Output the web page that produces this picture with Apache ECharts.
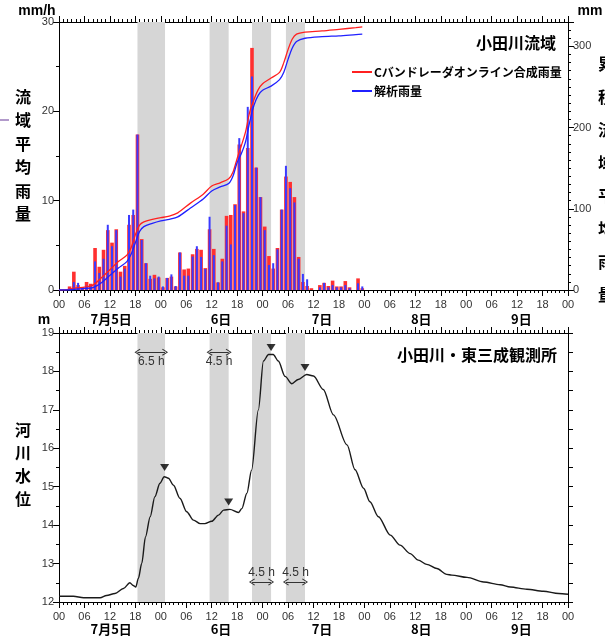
<!DOCTYPE html>
<html>
<head>
<meta charset="utf-8">
<style>
html,body{margin:0;padding:0;background:#fff;}
#main{width:605px;height:638px;}
</style>
<script src="https://cdn.jsdelivr.net/npm/echarts/dist/echarts.min.js"></script>
</head>
<body>
<div id="main"></div>
<script>
// 時刻は 7/5 00時 からの経過時間(h)
var rainHours = [0,1,2,3,4,5,6,7,8,9,10,11,12,13,14,15,16,17,18,19,20,21,22,23,
                 24,25,26,27,28,29,30,31,32,33,34,35,36,37,38,39,40,41,42,43,44,45,46,47,
                 48,49,50,51,52,53,54,55,56,57,58,59,60,61,62,63,64,65,66,67,68,69,70,71];
// Cバンドレーダオンライン合成雨量 (mm/h)
var radarRain = [0,0,0.4,2.05,0.55,0.3,0.9,0.7,4.7,2.6,4.5,6.7,5.3,6.8,2.05,2.7,7.3,8.4,17.4,5.7,3.0,1.25,1.7,1.4,
                 0.3,1.35,1.5,0.4,4.2,2.3,2.4,4.0,4.6,4.5,2.45,6.8,4.6,0.85,3.5,8.3,8.4,9.6,16.3,8.8,15.9,27.1,13.7,10.4,
                 7.1,3.8,2.4,4.7,9.0,12.7,12.1,10.4,3.7,0.9,0.45,0.2,0,0.55,0.8,0.45,1.05,0.4,0.4,1.0,0.3,0,1.3,0.2];
// 解析雨量 (mm/h)
var analysisRain = [0,0,0.2,0.9,0.8,0.3,0.5,0.45,3.2,1.9,3.5,7.3,4.9,6.7,1.5,2.4,8.4,9.0,17.4,5.6,3.0,1.6,1.3,1.5,
                    0.4,1.35,1.75,0.45,4.2,1.6,1.6,3.75,4.9,3.7,2.35,8.2,3.9,0.85,3.2,7.2,5.1,9.5,17.0,8.6,20.5,23.9,13.7,10.4,
                    6.7,2.8,3.0,4.55,9.0,13.9,11.4,9.8,3.5,1.8,1.2,0,0,0.3,0.8,0.3,0.55,0.3,0.3,0.55,0.2,0,0.75,0.4];
// 累積雨量 (mm)
var cumHours = [0,2,4,6,8,10,12,14,16,17,18,19,20,22,24,26,28,31,34,36,38,40,41,42,43,44,45,46,47,48,50,52,53,54,55,56,58,62,66,70,71.5];
var radarCum = [0,0.5,2.5,3.5,6,15,25,35,43,52,68,80,84,87,89,91,95,107,118,128,132,137,145,162,178,195,220,235,247,254,261,268,280,296,309,315,317.5,319,321,323,324];
var analysisCum = [0,0,1,2,3,9,18,27,35,44,58,72,78,82,85,87,90,101,112,122,127,131,140,157,168,183,208,228,240,246,251,259,268,284,298,306,310,312,313,314.5,315];

// 河川水位 (m)
var levelHours = [0,3.4,5.8,9.7,11.2,13.2,15.2,16.7,17.5,18.1,18.7,19.5,20.4,21.5,22.6,23.8,24.8,25.8,27,28.5,
                  30.1,31.7,33.3,34.4,36,37.6,38.8,40.3,42.3,43.1,44.3,45.4,47,48.2,49.4,50.5,51.7,53.3,54.9,56.4,
                  58.4,60,62.3,64.7,67.9,69.8,71.8,73.3,75.3,78.1,80.4,82.8,84.7,86.7,89.1,91.4,92.6,96.2,100.1,104,
                  106.4,110.3,114.2,117.8,120];
var levelValues = [12.15,12.15,12.11,12.11,12.17,12.22,12.35,12.5,12.43,12.39,12.61,13.0,13.7,14.22,14.74,15.09,15.26,15.22,15.04,14.7,
                   14.35,14.13,14.04,14.04,14.1,14.26,14.39,14.41,14.33,14.43,14.83,15.43,17.0,18.27,18.44,18.44,18.27,17.87,17.68,17.79,
                   17.92,17.88,17.53,16.87,16.09,15.44,14.96,14.61,14.22,13.74,13.48,13.26,13.09,12.98,12.87,12.72,12.70,12.64,12.52,12.45,
                   12.39,12.33,12.28,12.22,12.2];
// ピーク位置 (▼)
var peakHours = [24.9, 40, 50, 58];
var peakLevels = [15.5, 14.6, 18.62, 18.1];

// 網掛け時間帯
var shadeBands = [[18.5,25],[35.5,40],[45.5,50],[53.5,58]];
// 矢印 (時間差)
var lagFrom = [18.5, 35.5, 45.5, 53.5];
var lagTo = [25, 40, 50, 58];
var lagLevel = [18.5, 18.5, 12.52, 12.52];
var lagText = ['6.5 h','4.5 h','4.5 h','4.5 h'];

var dayLabels = ['7月5日','6日','7日','8日','9日'];
var dayLabelHours = [12.3, 38.2, 62, 85.4, 109];

var numFont = 'Liberation Sans';
var jpFont = 'Noto Sans CJK JP';

function pair(xs, ys, off){
	var arr = [];
	for (var i = 0; i < xs.length; i++) {
		arr.push([xs[i] + (off || 0), ys[i]]);
	}
	return arr;
}

// 時間軸 (6時間ごとの目盛とラベル)
function hourAxis(grid, pos, showLabel){
	return {
		type:'value', gridIndex:grid, position:pos, min:0, max:120, interval:6,
		axisLine:{show:true, onZero:false, lineStyle:{color:'#000', width:1}},
		axisTick:{show:true, inside:false, length:6, lineStyle:{color:'#000'}},
		splitLine:{show:false},
		axisLabel:{
			show:showLabel, margin:9, fontSize:11, color:'#333', fontFamily:numFont,
			formatter:function(v){ var h = v % 24; return (h < 10 ? '0' : '') + h; }
		}
	};
}
// 1時間ごとの小目盛だけの軸
function hourMinorAxis(grid, pos){
	return {
		type:'value', gridIndex:grid, position:pos, min:0, max:120, interval:1,
		axisLine:{show:false, onZero:false},
		axisTick:{show:true, inside:false, length:3, lineStyle:{color:'#000'}},
		splitLine:{show:false}, axisLabel:{show:false}
	};
}

function valAxis(grid, pos, min, max, interval, opt){
	var a = {
		type:'value', gridIndex:grid, position:pos, min:min, max:max, interval:interval,
		axisLine:{show:true, onZero:false, lineStyle:{color:'#000', width:1}},
		axisTick:{show:true, inside:false, length:6, lineStyle:{color:'#000'}},
		splitLine:{show:false},
		axisLabel:{show:true, margin:5, fontSize:11, color:'#333', fontFamily:numFont}
	};
	for (var k in opt) a[k] = opt[k];
	return a;
}
var tickOnly = {axisLine:{show:false, onZero:false}, axisTick:{show:true, length:3, lineStyle:{color:'#000'}}, axisLabel:{show:false}};

function bandArea(y0, y1){
	var d = [];
	for (var i = 0; i < shadeBands.length; i++) {
		d.push([{coord:[shadeBands[i][0], y0]}, {coord:[shadeBands[i][1], y1]}]);
	}
	return d;
}

// 矢印の先 (上向きの山形)
var chevron = 'path://M5,0 L10,8 L8.8,9 L5,2.4 L1.2,9 L0,8 Z';
var lagLines = [];
for (var i = 0; i < lagFrom.length; i++) {
	lagLines.push([
		{coord:[lagFrom[i], lagLevel[i]], label:{formatter:lagText[i], position: lagLevel[i] > 15 ? 'insideMiddleBottom' : 'insideMiddleTop'}},
		{coord:[lagTo[i], lagLevel[i]]}
	]);
}

var chart = echarts.init(document.getElementById('main'));

var option = {
	animation:false,
	backgroundColor:'#fff',
	grid:[
		{left:59, top:22, width:509, height:268},
		{left:59, top:333, width:509, height:269}
	],
	legend:{
		data:['Cバンドレーダオンライン合成雨量','解析雨量'],
		orient:'vertical', left:347, top:60,
		icon:'rect', itemWidth:20, itemHeight:2, itemGap:5,
		textStyle:{fontSize:12, fontWeight:'bold', color:'#000', fontFamily:jpFont, lineHeight:14, padding:[0,0,0,-3]}
	},
	xAxis:[
		hourAxis(0, 'bottom', true),
		hourAxis(0, 'top', false),
		hourAxis(1, 'bottom', true),
		hourAxis(1, 'top', false),
		hourMinorAxis(0, 'bottom'),
		hourMinorAxis(0, 'top'),
		hourMinorAxis(1, 'bottom'),
		hourMinorAxis(1, 'top')
	],
	yAxis:[
		valAxis(0, 'left', 0, 30, 10),
		valAxis(0, 'right', 0, 330, 100, {axisLabel:{show:true, margin:5, fontSize:11, color:'#333', fontFamily:numFont,
			formatter:function(v){ return v % 100 === 0 ? v : ''; }}}),
		valAxis(0, 'right', 0, 330, 10, tickOnly),
		valAxis(1, 'left', 12, 19, 1),
		valAxis(1, 'right', 12, 19, 0.5, {axisTick:{show:true, length:5, lineStyle:{color:'#000'}}, axisLabel:{show:false}}),
		valAxis(0, 'left', 0, 30, 5, tickOnly),
		valAxis(1, 'left', 12, 19, 0.5, tickOnly)
	],
	series:[
		{
			name:'band1', type:'line', xAxisIndex:0, yAxisIndex:0, data:[], z:1, silent:true,
			markArea:{silent:true, itemStyle:{color:'#d6d6d6'}, data:bandArea(0, 30)}
		},
		{
			name:'band2', type:'line', xAxisIndex:2, yAxisIndex:3, data:[], z:1, silent:true,
			markArea:{silent:true, itemStyle:{color:'#d6d6d6'}, data:bandArea(12, 19)}
		},
		{
			name:'radarBar', type:'bar', xAxisIndex:0, yAxisIndex:0, barWidth:3.6, z:2,
			itemStyle:{color:'#ff3030'}, data:pair(rainHours, radarRain, 0.5)
		},
		{
			name:'analysisBar', type:'bar', xAxisIndex:1, yAxisIndex:0, barWidth:2, z:3,
			itemStyle:{color:'#3a3aff'}, data:pair(rainHours, analysisRain, 0.5)
		},
		{
			name:'Cバンドレーダオンライン合成雨量', type:'line', xAxisIndex:0, yAxisIndex:1, z:4,
			smooth:0.3, showSymbol:false, symbol:'none', itemStyle:{color:'#ff2020'},
			lineStyle:{color:'#ff2020', width:1.3}, data:pair(cumHours, radarCum)
		},
		{
			name:'解析雨量', type:'line', xAxisIndex:0, yAxisIndex:1, z:4,
			smooth:0.3, showSymbol:false, symbol:'none', itemStyle:{color:'#2020ff'},
			lineStyle:{color:'#2020ff', width:1.3}, data:pair(cumHours, analysisCum)
		},
		{
			name:'水位', type:'line', xAxisIndex:2, yAxisIndex:3, z:4,
			smooth:0.3, smoothMonotone:'x', showSymbol:false, symbol:'none',
			lineStyle:{color:'#1a1a1a', width:1.4}, data:pair(levelHours, levelValues),
			markLine:{
				silent:true, symbol:[chevron, chevron], symbolSize:[7,6],
				lineStyle:{color:'#333', width:1, type:'solid'},
				label:{show:true, distance:3, fontSize:12, color:'#333', fontFamily:numFont},
				data:lagLines
			}
		},
		{
			name:'peak', type:'scatter', xAxisIndex:2, yAxisIndex:3, z:5,
			symbol:'triangle', symbolRotate:180, symbolSize:[9,7],
			itemStyle:{color:'#000'}, data:pair(peakHours, peakLevels)
		}
	]
};
chart.setOption(option);

// 軸の外側の文字
var g = [];
function txt(x, y, s, font, align, vAlign, lh){
	g.push({type:'text', x:x, y:y, silent:true, style:{
		text:s, font:font, fill:'#000', textAlign:align, align:align,
		textVerticalAlign:vAlign, verticalAlign:vAlign, lineHeight:lh
	}});
}
for (var i = 0; i < dayLabels.length; i++) {
	var px = chart.convertToPixel({xAxisIndex:0}, dayLabelHours[i]);
	txt(px, 319, dayLabels[i], 'bold 13px "' + jpFont + '"', 'center', 'middle');
	txt(px, 629, dayLabels[i], 'bold 13px "' + jpFont + '"', 'center', 'middle');
}
txt(37, 11, 'mm/h', 'bold 14px "' + numFont + '"', 'center', 'middle');
txt(590, 11, 'mm', 'bold 14px "' + numFont + '"', 'center', 'middle');
txt(44, 320, 'm', 'bold 14px "' + numFont + '"', 'center', 'middle');
txt(23, 85, '流\n域\n平\n均\n雨\n量', 'bold 16px "' + jpFont + '"', 'center', 'top', 23.5);
txt(23, 419, '河\n川\n水\n位', 'bold 16px "' + jpFont + '"', 'center', 'top', 22.7);
txt(598, 47, '累\n積\n流\n域\n平\n均\n雨\n量', 'bold 16px "' + jpFont + '"', 'left', 'top', 33);
txt(556, 43, '小田川流域', 'bold 16px "' + jpFont + '"', 'right', 'middle');
txt(557, 355, '小田川・東三成観測所', 'bold 16px "' + jpFont + '"', 'right', 'middle');
g.push({type:'line', silent:true, shape:{x1:0, y1:120, x2:9, y2:120}, style:{stroke:'#7e57a8', lineWidth:1.2}});

chart.setOption({graphic:g});
</script>
</body>
</html>
